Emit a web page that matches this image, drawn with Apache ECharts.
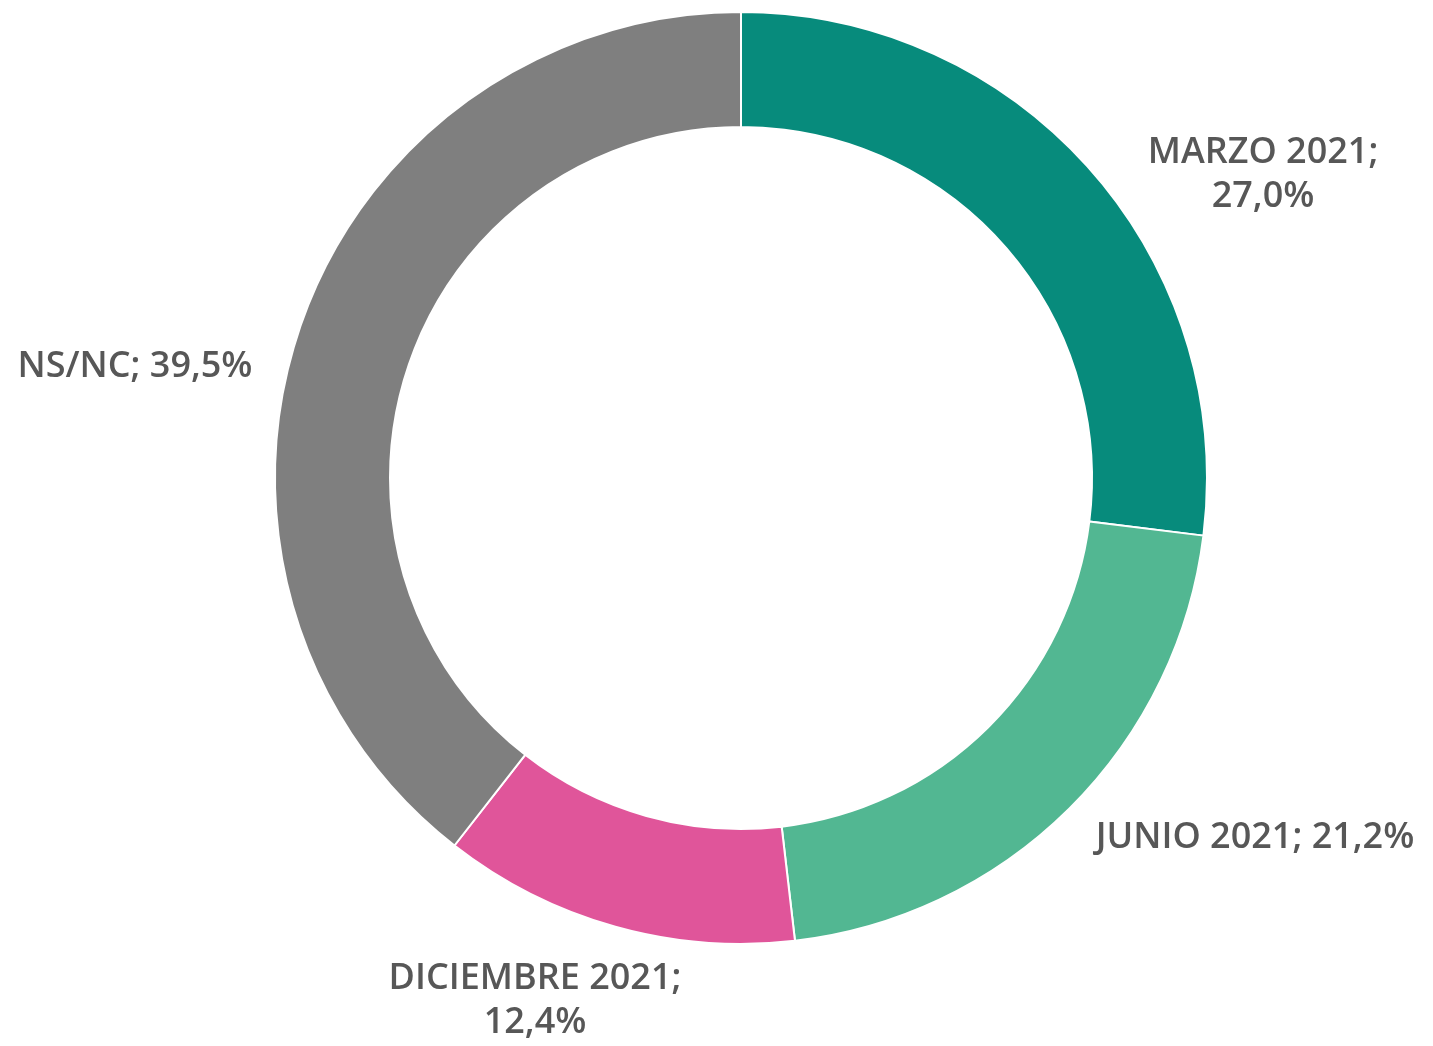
<!DOCTYPE html>
<html>
<head>
<meta charset="utf-8">
<script src="https://cdn.jsdelivr.net/npm/echarts@6/dist/echarts.min.js"></script>
<style>
  html, body { margin: 0; padding: 0; background: #fff; }
  #chart { width: 1433px; height: 1046px; }
</style>
</head>
<body>
<div id="chart"></div>
<script>
// datos del gráfico
const categorias = ['MARZO 2021', 'JUNIO 2021', 'DICIEMBRE 2021', 'NS/NC'];
const valores = [27.0, 21.2, 12.4, 39.5];
const colores = ['#078b7c', '#52b792', '#e0559a', '#7f7f7f'];
// texto de cada etiqueta (salto de línea donde lo pone el original)
const saltos = [true, false, true, false];

// posición de las etiquetas (centro del bloque de texto)
const posEtiquetas = [
  [1263, 175],
  [1255, 838],
  [535, 1001],
  [135, 367]
];

const myChart = echarts.init(document.getElementById('chart'));

const options = {
  animation: false,
  series: [
    {
      type: 'pie',
      center: [741, 478],
      radius: [351, 466],
      startAngle: 90,
      clockwise: true,
      avoidLabelOverlap: false,
      data: categorias.map((name, i) => ({
        name: name,
        value: valores[i],
        itemStyle: { color: colores[i] }
      })),
      itemStyle: {
        borderColor: '#ffffff',
        borderWidth: 2
      },
      label: {
        show: true,
        position: 'outside',
        color: '#575757',
        fontFamily: 'Open Sans',
        fontWeight: 600,
        fontSize: 36,
        lineHeight: 44,
        align: 'center',
        formatter: (p) => {
          const v = p.value.toFixed(1).replace('.', ',') + '%';
          return p.name + ';' + (saltos[p.dataIndex] ? '\n' : ' ') + v;
        }
      },
      labelLine: { show: false },
      labelLayout: (params) => {
        const pos = posEtiquetas[params.dataIndex];
        return {
          x: pos[0],
          y: pos[1],
          align: 'center',
          verticalAlign: 'middle'
        };
      }
    }
  ]
};

myChart.setOption(options);
</script>
</body>
</html>
